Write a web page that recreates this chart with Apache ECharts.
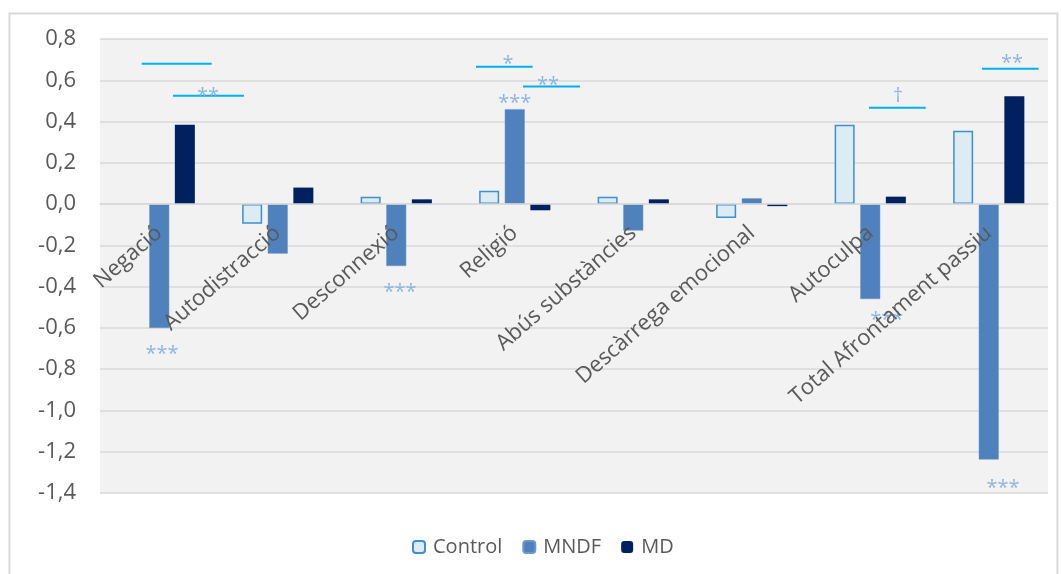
<!DOCTYPE html>
<html>
<head>
<meta charset="utf-8">
<script src="https://cdn.jsdelivr.net/npm/echarts@6/dist/echarts.min.js"></script>
<style>
  html, body { margin: 0; padding: 0; background: #fff; }
  #chart { width: 1061px; height: 574px; }
</style>
</head>
<body>
<div id="chart"></div>
<script>
// Coping strategies: standardised scores per group
const categories = ['Negació', 'Autodistracció', 'Desconnexió', 'Religió', 'Abús substàncies',
  'Descàrrega emocional', 'Autoculpa', 'Total Afrontament passiu'];
const controlValues = [0, -0.095, 0.035, 0.065, 0.035, -0.067, 0.384, 0.355];
const mndfValues = [-0.60, -0.24, -0.30, 0.46, -0.128, 0.028, -0.46, -1.238];
const mdValues = [0.385, 0.08, 0.023, -0.03, 0.023, -0.01, 0.036, 0.522];

// Significance brackets: [x start, x end, y]; x counts category bands from the left edge
const brackets = [
  [0.352, 0.943, 0.68], [0.616, 1.215, 0.525],
  [3.173, 3.651, 0.666], [3.570, 4.051, 0.57],
  [6.489, 6.968, 0.467], [7.443, 7.921, 0.656]
];
// Significance marks: [x, y, text]
const marks = [
  [0.911, 0.545, '**'], [0.523, -0.705, '***'], [2.532, -0.405, '***'],
  [3.443, 0.70, '*'], [3.78, 0.598, '**'], [3.50, 0.511, '***'],
  [6.734, 0.52, '†'], [6.64, -0.54, '***'], [7.696, 0.705, '**'], [7.62, -1.354, '***']
];

const Y_MIN = -1.4, Y_MAX = 0.8, Y_STEP = 0.2;
const GRID = { left: 100, right: 13, top: 39, bottom: 81 };
const CHART_H = 574;
const FONT = 'Open Sans';

// Category labels hang just below the zero line: shift them up from the plot floor
const plotH = CHART_H - GRID.top - GRID.bottom;
const zeroToFloor = plotH * (0 - Y_MIN) / (Y_MAX - Y_MIN);
const labelMargin = 26 - zeroToFloor;

// A zero-height outlined bar would leave a stray stroke on the axis
const controlData = controlValues.map(v => v === 0 ? { value: v, itemStyle: { borderWidth: 0 } } : v);

const chart = echarts.init(document.getElementById('chart'), null, { renderer: 'canvas' });

// Map a band position (0 = left edge of first category) and a value to pixels
function bandPoint(api, bx, v) {
  const first = api.coord([0, v]);
  const band = api.size([1, 0])[0];
  return [first[0] - band / 2 + bx * band, first[1]];
}

chart.setOption({
  animation: false,
  backgroundColor: '#ffffff',
  graphic: [{
    type: 'rect',
    shape: { x: 9.5, y: 13.5, width: 1048, height: 600 },
    style: { fill: 'none', stroke: '#D9D9D9', lineWidth: 2 },
    silent: true, z: -1
  }],
  grid: Object.assign({
    containLabel: false, outerBoundsMode: 'none',
    show: true, backgroundColor: '#F2F2F2', borderWidth: 0
  }, GRID),
  legend: {
    data: ['Control', 'MNDF', 'MD'],
    bottom: 12, left: 407,
    itemWidth: 12, itemHeight: 12, itemGap: 20,
    textStyle: { fontFamily: FONT, fontSize: 20, color: '#595959', padding: [0, 0, 0, 3] }
  },
  xAxis: {
    type: 'category',
    data: categories,
    z: 10,
    axisLine: { onZero: true, lineStyle: { color: '#D9D9D9', width: 1.5 } },
    axisTick: { show: false },
    axisLabel: {
      interval: 0, rotate: 41, margin: labelMargin,
      fontFamily: FONT, fontSize: 22, color: '#595959'
    }
  },
  yAxis: {
    type: 'value', min: Y_MIN, max: Y_MAX, interval: Y_STEP,
    axisLine: { show: false }, axisTick: { show: false },
    splitLine: { lineStyle: { color: '#D9D9D9', width: 1.5 } },
    axisLabel: {
      margin: 24, fontFamily: FONT, fontSize: 22, color: '#595959',
      formatter: v => v.toFixed(1).replace('.', ',').replace('-0,0', '0,0')
    }
  },
  series: [
    {
      name: 'Control', type: 'bar', data: controlData, barWidth: 20, barGap: '28%',
      itemStyle: { color: '#DDEBF3', borderColor: '#3D8ED2', borderWidth: 1.5 }
    },
    {
      name: 'MNDF', type: 'bar', data: mndfValues, barWidth: 20, barGap: '28%',
      itemStyle: { color: '#4F81BD', borderColor: '#6D98CB', borderWidth: 0.5 }
    },
    {
      name: 'MD', type: 'bar', data: mdValues, barWidth: 20, barGap: '28%',
      itemStyle: { color: '#002060' }
    },
    {
      name: 'brackets', type: 'custom', z: 3, silent: true,
      data: brackets.map(b => [0, b[2]]),
      renderItem: (params, api) => {
        const b = brackets[params.dataIndex];
        const p1 = bandPoint(api, b[0], b[2]);
        const p2 = bandPoint(api, b[1], b[2]);
        return {
          type: 'line',
          shape: { x1: p1[0], y1: p1[1], x2: p2[0], y2: p2[1] },
          style: { stroke: '#00B0F0', lineWidth: 2 }
        };
      }
    },
    {
      name: 'marks', type: 'custom', z: 3, silent: true,
      data: marks.map(m => [0, m[1]]),
      renderItem: (params, api) => {
        const m = marks[params.dataIndex];
        const p = bandPoint(api, m[0], m[1]);
        const dagger = m[2] === '†';
        return {
          type: 'text',
          style: {
            x: p[0], y: p[1] + (dagger ? 0 : 5),
            text: m[2], align: 'center', verticalAlign: 'middle',
            fontFamily: FONT, fontSize: 20,
            fill: '#8DB4E2'
          }
        };
      }
    }
  ]
});
</script>
</body>
</html>
